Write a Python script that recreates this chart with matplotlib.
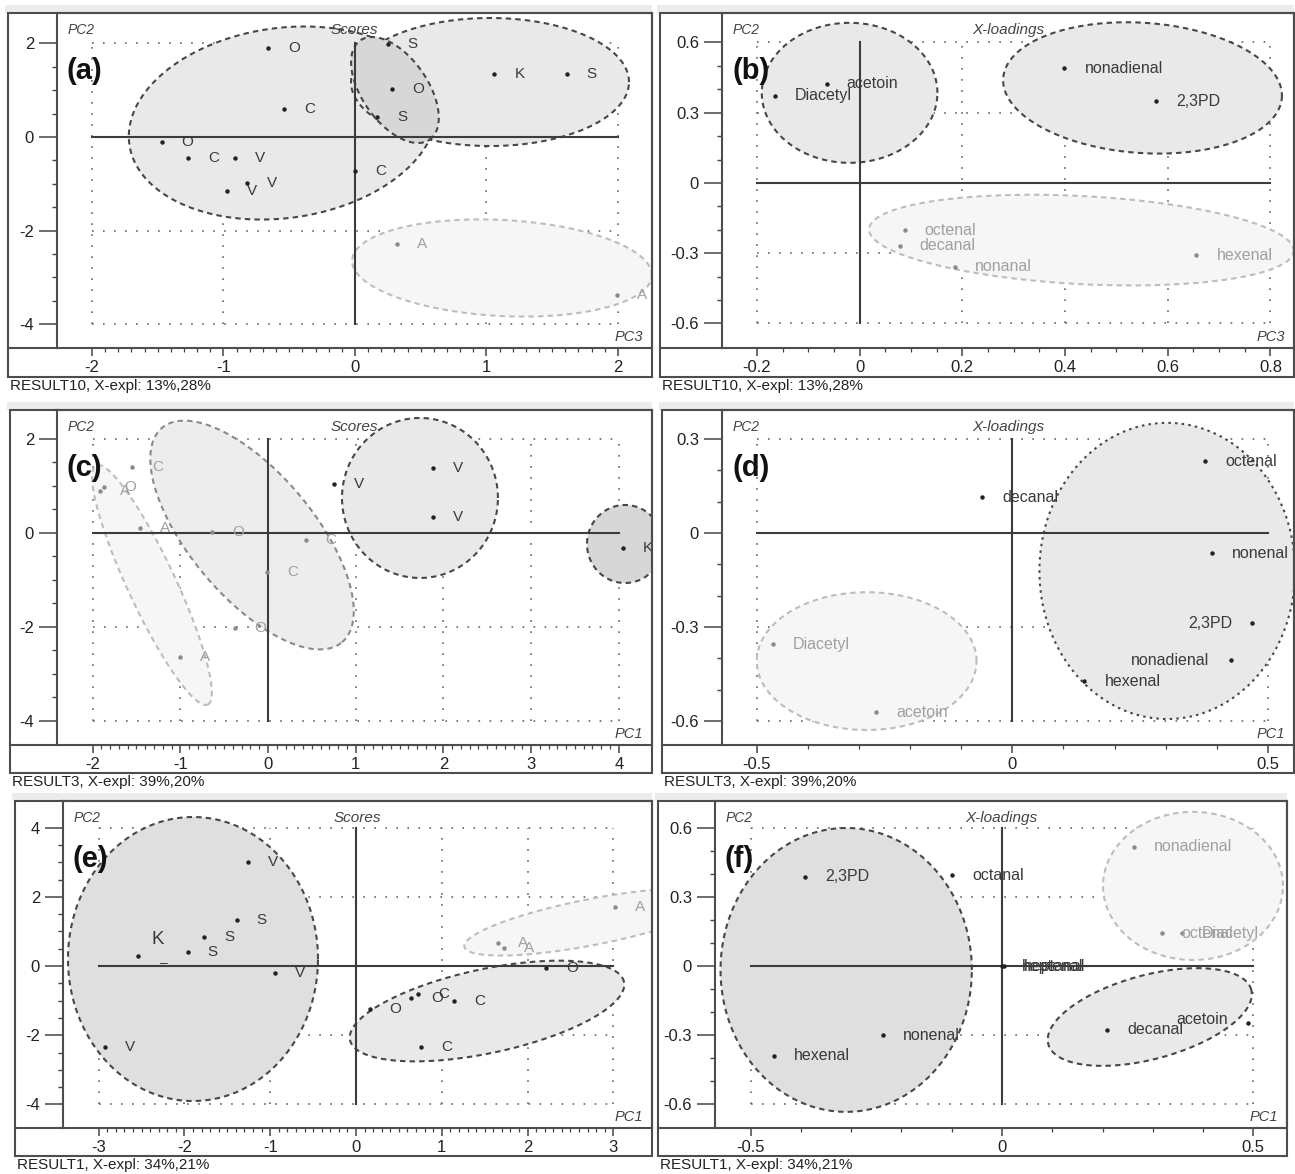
import numpy as np
import matplotlib
matplotlib.use("Agg")
import matplotlib.pyplot as plt
from matplotlib.patches import Polygon, Rectangle
from matplotlib.lines import Line2D
from matplotlib.ticker import FixedLocator

plt.rcParams['font.family'] = ['Liberation Sans', 'DejaVu Sans']
plt.rcParams['axes.unicode_minus'] = False

W, H = 1295, 1174

# ---------------- data ----------------
# (a) scores, PC3 (x) vs PC2 (y)
a_labels = ['O', 'C', 'O', 'C', 'V', 'V', 'V', 'S', 'K', 'S', 'O', 'S', 'C', 'A', 'A']
a_x = [-0.66, -0.54, -1.47, -1.27, -0.91, -0.97, -0.82, 0.25, 1.06, 1.61, 0.28, 0.17, 0.00, 0.32, 1.99]
a_y = [1.90, 0.60, -0.10, -0.45, -0.45, -1.16, -0.98, 1.99, 1.35, 1.35, 1.03, 0.43, -0.72, -2.29, -3.38]

# (b) X-loadings, PC3 vs PC2
b_labels = ['Diacetyl', 'acetoin', 'nonadienal', '2,3PD', 'octenal', 'decanal', 'nonanal', 'hexenal']
b_x = [-0.165, -0.064, 0.399, 0.578, 0.088, 0.078, 0.185, 0.656]
b_y = [0.372, 0.423, 0.491, 0.350, -0.201, -0.269, -0.358, -0.308]

# (c) scores, PC1 vs PC2
c_labels = ['C', 'A', 'O', 'A', 'O', 'C', 'C', 'O', 'A', 'V', 'V', 'V', 'K']
c_x = [-1.55, -1.92, -1.87, -1.46, -0.64, 0.43, -0.01, -0.38, -1.00, 0.75, 1.88, 1.88, 4.05]
c_y = [1.40, 0.90, 0.98, 0.11, 0.02, -0.15, -0.83, -2.02, -2.63, 1.04, 1.38, 0.34, -0.32]

# (d) X-loadings, PC1 vs PC2
d_labels = ['Diacetyl', 'acetoin', 'decanal', 'octenal', 'nonenal', '2,3PD', 'nonadienal', 'hexenal']
d_x = [-0.469, -0.266, -0.059, 0.377, 0.391, 0.469, 0.428, 0.141]
d_y = [-0.355, -0.572, 0.115, 0.230, -0.064, -0.288, -0.406, -0.473]

# (e) scores, PC1 vs PC2
e_labels = ['V', 'S', 'S', 'S', 'K', 'V', 'V', 'A', 'A', 'A', 'O', 'O', 'O', 'C', 'C', 'C']
e_x = [-1.26, -1.39, -1.77, -1.96, -2.54, -0.94, -2.93, 3.02, 1.66, 1.73, 2.22, 0.16, 0.64, 0.72, 1.14, 0.76]
e_y = [3.01, 1.33, 0.84, 0.40, 0.30, -0.20, -2.33, 1.71, 0.66, 0.52, -0.05, -1.24, -0.92, -0.81, -1.01, -2.34]

# (f) X-loadings, PC1 vs PC2
f_labels = ['2,3PD', 'octanal', 'hexenal', 'nonenal', 'nonadienal', 'octenal', 'Diacetyl',
            'heptenal', 'heptanal', 'decanal', 'acetoin']
f_x = [-0.392, -0.099, -0.453, -0.237, 0.262, 0.318, 0.358, -0.001, 0.004, 0.209, 0.489]
f_y = [0.386, 0.394, -0.390, -0.299, 0.516, 0.142, 0.142, 0.0, 0.0, -0.277, -0.247]

# group ellipses: centre x, centre y, half-width (x units), half-height (y units), tilt (deg)
a_ell = [(-0.548, 0.299, 1.179, 2.032, 8), (1.027, 1.176, 1.057, 1.369, 0),
         (0.304, 1.005, 0.460, 0.700, -55), (1.118, -2.802, 1.141, 1.027, -3)]
b_ell = [(-0.0195, 0.385, 0.171, 0.299, 0), (0.551, 0.406, 0.272, 0.278, -4),
         (0.432, -0.244, 0.414, 0.188, -3)]
c_ell = [(-1.323, -1.106, 1.505, 0.511, -65), (-0.182, -0.043, 1.596, 1.319, -50),
         (1.733, 0.745, 0.889, 1.702, 0), (4.071, -0.234, 0.433, 0.830, 0)]
d_ell = [(-0.285, -0.409, 0.215, 0.220, 0), (0.303, -0.121, 0.250, 0.473, 0)]
e_ell = [(-1.900, 0.202, 1.457, 4.104, 0), (2.751, 1.272, 1.515, 0.665, 11),
         (1.527, -1.301, 1.632, 1.214, 12)]
f_ell = [(-0.310, -0.017, 0.250, 0.615, 0), (0.380, 0.347, 0.179, 0.321, 0),
         (0.294, -0.221, 0.209, 0.182, 15)]

# axis ticks
a_xt = [-2, -1, 0, 1, 2];            a_yt = [-4, -2, 0, 2]
b_xt = [-0.2, 0, 0.2, 0.4, 0.6, 0.8]; b_yt = [-0.6, -0.3, 0, 0.3, 0.6]
c_xt = [-2, -1, 0, 1, 2, 3, 4];      c_yt = [-4, -2, 0, 2]
d_xt = [-0.5, 0, 0.5];               d_yt = [-0.6, -0.3, 0, 0.3]
e_xt = [-3, -2, -1, 0, 1, 2, 3];     e_yt = [-4, -2, 0, 2, 4]
f_xt = [-0.5, 0, 0.5];               f_yt = [-0.6, -0.3, 0, 0.3, 0.6]

a_xtl = ['-2', '-1', '0', '1', '2'];               a_ytl = ['-4', '-2', '0', '2']
b_xtl = ['-0.2', '0', '0.2', '0.4', '0.6', '0.8']; b_ytl = ['-0.6', '-0.3', '0', '0.3', '0.6']
c_xtl = ['-2', '-1', '0', '1', '2', '3', '4'];      c_ytl = ['-4', '-2', '0', '2']
d_xtl = ['-0.5', '0', '0.5'];                       d_ytl = ['-0.6', '-0.3', '0', '0.3']
e_xtl = ['-3', '-2', '-1', '0', '1', '2', '3'];     e_ytl = ['-4', '-2', '0', '2', '4']
f_xtl = ['-0.5', '0', '0.5'];                       f_ytl = ['-0.6', '-0.3', '0', '0.3', '0.6']

footer_10 = 'RESULT10, X-expl: 13%,28%'
footer_3 = 'RESULT3, X-expl: 39%,20%'
footer_1 = 'RESULT1, X-expl: 34%,21%'

# ---------------- styles ----------------
DARK = '#3a3a3a'
GREY = '#a0a0a0'
ELL = {
    'dark':  dict(fc='#e9e9e9', ec='#474747', ls=(0, (2.6, 2.0))),
    'deep':  dict(fc='#d7d7d7', ec='#474747', ls=(0, (2.6, 2.0))),
    'shade': dict(fc='#dfdfdf', ec='#474747', ls=(0, (2.6, 2.0))),
    'mid':   dict(fc='#ededed', ec='#8a8a8a', ls=(0, (2.6, 2.0))),
    'light': dict(fc='#f6f6f6', ec='#bdbdbd', ls=(0, (2.6, 2.0))),
    'dots':  dict(fc='#e9e9e9', ec='#474747', ls=(0, (1.2, 2.0))),
}

fig = plt.figure(figsize=(W / 100, H / 100), dpi=100)
fig.patch.set_facecolor('white')


def fx(px):
    return px / W


def fy(py):
    return 1 - py / H


def ellipse_xy(ax, cx, cy, a, b, ang):
    pos = ax.get_position()
    x0, x1 = ax.get_xlim()
    y0, y1 = ax.get_ylim()
    sx = pos.width * W / (x1 - x0)
    sy = pos.height * H / (y1 - y0)
    t = np.linspace(0, 2 * np.pi, 400)
    u = a * sx * np.cos(t)
    v = b * sy * np.sin(t)
    th = np.deg2rad(ang)
    xp = u * np.cos(th) - v * np.sin(th)
    yp = u * np.sin(th) + v * np.cos(th)
    return np.column_stack([cx + xp / sx, cy + yp / sy])


def minor_ticks(major, step):
    n = int(round((major[-1] - major[0]) / step))
    return [major[0] + i * step for i in range(n + 1)]


def draw_panel(P):
    XO, L, R, T, B, SB = P['frame']
    # window header band
    fig.add_artist(Rectangle((fx(XO - 3), fy(T)), (R - XO + 3) / W, 8 / H,
                             transform=fig.transFigure, color='#ececec', lw=0, zorder=0))
    # outer frame including x-axis strip
    fig.add_artist(Rectangle((fx(XO), fy(SB)), (R - XO) / W, (SB - T) / H, fill=False,
                             ec='#4d4d4d', lw=1.5, transform=fig.transFigure, zorder=6))
    fig.add_artist(Line2D([fx(XO), fx(L)], [fy(B), fy(B)], color='#4d4d4d', lw=1.5,
                          transform=fig.transFigure, zorder=6))

    ax = fig.add_axes([fx(L), fy(B), (R - L) / W, (B - T) / H])
    ax.set_xlim(*P['xlim'])
    ax.set_ylim(*P['ylim'])
    for s in ax.spines.values():
        s.set_color('#4d4d4d')
        s.set_linewidth(1.5)

    xt, yt = P['xt'], P['yt']
    ax.set_xticks(xt)
    ax.set_xticklabels(P['xtl'])
    ax.set_yticks(yt)
    ax.set_yticklabels(P['ytl'])
    ax.xaxis.set_minor_locator(FixedLocator(minor_ticks(xt, P['xminor'])))
    ax.yaxis.set_minor_locator(FixedLocator(minor_ticks(yt, P['yminor'])))
    ax.tick_params(axis='x', which='major', direction='out', length=5.5, width=1.1,
                   pad=3, labelsize=12, color='#444444', labelcolor='#222222')
    ax.tick_params(axis='x', which='minor', direction='out', length=2.6, width=0.9, color='#444444')
    ax.tick_params(axis='y', which='major', direction='out', length=13, width=1.1,
                   pad=3.5, labelsize=12, color='#444444', labelcolor='#222222')
    ax.tick_params(axis='y', which='minor', direction='out', length=3.8, width=1.0, color='#444444')

    # dotted grid at the major ticks
    for v in xt:
        ax.plot([v, v], [yt[0], yt[-1]], color='#6e6e6e', lw=1.3, ls=(0, (0.9, 5.2)), zorder=1)
    for v in yt:
        ax.plot([xt[0], xt[-1]], [v, v], color='#6e6e6e', lw=1.3, ls=(0, (0.9, 5.2)), zorder=1)

    # group ellipses
    for (cx, cy, a, b, ang), kind in zip(P['ell'], P['ell_kind']):
        st = ELL[kind]
        ax.add_patch(Polygon(ellipse_xy(ax, cx, cy, a, b, ang), closed=True,
                             facecolor=st['fc'], edgecolor=st['ec'], lw=1.5,
                             ls=st['ls'], zorder=2))

    # zero axes
    ax.plot([xt[0], xt[-1]], [0, 0], color='#3c3c3c', lw=1.5, zorder=3)
    ax.plot([0, 0], [yt[0], yt[-1]], color='#3c3c3c', lw=1.5, zorder=3)

    # points and their labels
    size = P['fs']
    for i, (lab, x, y) in enumerate(zip(P['labels'], P['x'], P['y'])):
        faint = lab in P['faint']
        col = GREY if faint else DARK
        ax.plot(x, y, 'o', ms=2.2, color='#8a8a8a' if faint else '#222222', zorder=4)
        dx, dy, ha, fs = P['offsets'].get(i, (20, 0, 'left', size))
        ax.annotate(lab, (x, y), xytext=(dx, dy), textcoords='offset pixels',
                    ha=ha, va='center', fontsize=fs, color=col, zorder=5)

    # captions inside the plot
    fig.text(fx(L + 11), fy(T + 17), 'PC2', style='italic', fontsize=10,
             color='#444444', ha='left', va='center')
    fig.text(fx((L + R) / 2), fy(T + 17), P['title'], style='italic', fontsize=11,
             color='#444444', ha='center', va='center')
    fig.text(fx(R - 9), fy(B - 11), P['xname'], style='italic', fontsize=10.5,
             color='#444444', ha='right', va='center')
    fig.text(fx(L + 10), fy(T + 58), P['tag'], fontweight='bold', fontsize=21,
             color='#111111', ha='left', va='center')
    fig.text(fx(XO + 2), fy(SB + 9), P['footer'], fontsize=11, color='#222222',
             ha='left', va='center')
    return ax


panels = [
    dict(frame=(8, 57, 652, 13, 348, 377), xlim=(-2.266, 2.259), ylim=(-4.513, 2.652),
         xt=a_xt, yt=a_yt, xtl=a_xtl, ytl=a_ytl, xminor=0.1, yminor=0.5,
         labels=a_labels, x=a_x, y=a_y, faint={'A'}, fs=11, offsets={},
         ell=a_ell, ell_kind=['dark', 'dark', 'deep', 'light'],
         title='Scores', xname='PC3', tag='(a)', footer=footer_10),
    dict(frame=(660, 722, 1294, 13, 348, 377), xlim=(-0.268, 0.846), ylim=(-0.705, 0.726),
         xt=b_xt, yt=b_yt, xtl=b_xtl, ytl=b_ytl, xminor=0.05, yminor=0.1,
         labels=b_labels, x=b_x, y=b_y, faint={'octenal', 'decanal', 'nonanal', 'hexenal'},
         fs=11.5, offsets={},
         ell=b_ell, ell_kind=['dark', 'dark', 'light'],
         title='X-loadings', xname='PC3', tag='(b)', footer=footer_10),
    dict(frame=(10, 57, 652, 410, 745, 773), xlim=(-2.406, 4.379), ylim=(-4.511, 2.617),
         xt=c_xt, yt=c_yt, xtl=c_xtl, ytl=c_ytl, xminor=0.1, yminor=0.5,
         labels=c_labels, x=c_x, y=c_y, faint={'A', 'O', 'C'}, fs=11, offsets={},
         ell=c_ell, ell_kind=['light', 'mid', 'dark', 'deep'],
         title='Scores', xname='PC1', tag='(c)', footer=footer_3),
    dict(frame=(662, 722, 1294, 410, 745, 773), xlim=(-0.568, 0.551), ylim=(-0.677, 0.393),
         xt=d_xt, yt=d_yt, xtl=d_xtl, ytl=d_ytl, xminor=0.1, yminor=0.1,
         labels=d_labels, x=d_x, y=d_y, faint={'Diacetyl', 'acetoin'}, fs=11.5,
         offsets={5: (-20, 0, 'right', 11.5), 6: (-22, 0, 'right', 11.5)},
         ell=d_ell, ell_kind=['light', 'dots'],
         title='X-loadings', xname='PC1', tag='(d)', footer=footer_3),
    dict(frame=(15, 63, 652, 801, 1128, 1156), xlim=(-3.415, 3.450), ylim=(-4.682, 4.769),
         xt=e_xt, yt=e_yt, xtl=e_xtl, ytl=e_ytl, xminor=0.1, yminor=0.5,
         labels=e_labels, x=e_x, y=e_y, faint={'A'}, fs=11,
         offsets={4: (13, 16, 'left', 13.5)},
         ell=e_ell, ell_kind=['shade', 'light', 'dark'],
         title='Scores', xname='PC1', tag='(e)', footer=footer_1),
    dict(frame=(658, 715, 1287, 801, 1128, 1156), xlim=(-0.571, 0.567), ylim=(-0.702, 0.715),
         xt=f_xt, yt=f_yt, xtl=f_xtl, ytl=f_ytl, xminor=0.1, yminor=0.1,
         labels=f_labels, x=f_x, y=f_y, faint={'nonadienal', 'octenal', 'Diacetyl'}, fs=11.5,
         offsets={10: (-20, 3, 'right', 11.5)},
         ell=f_ell, ell_kind=['shade', 'light', 'dark'],
         title='X-loadings', xname='PC1', tag='(f)', footer=footer_1),
]

axes = [draw_panel(P) for P in panels]

# short dash drawn beside the K sample in (e)
axes[4].annotate('–', (e_x[4], e_y[4]), xytext=(22, -7), textcoords='offset pixels',
                 ha='left', va='center', fontsize=10, color=DARK, zorder=5)

fig.savefig('out.png', dpi=100, facecolor='white')
